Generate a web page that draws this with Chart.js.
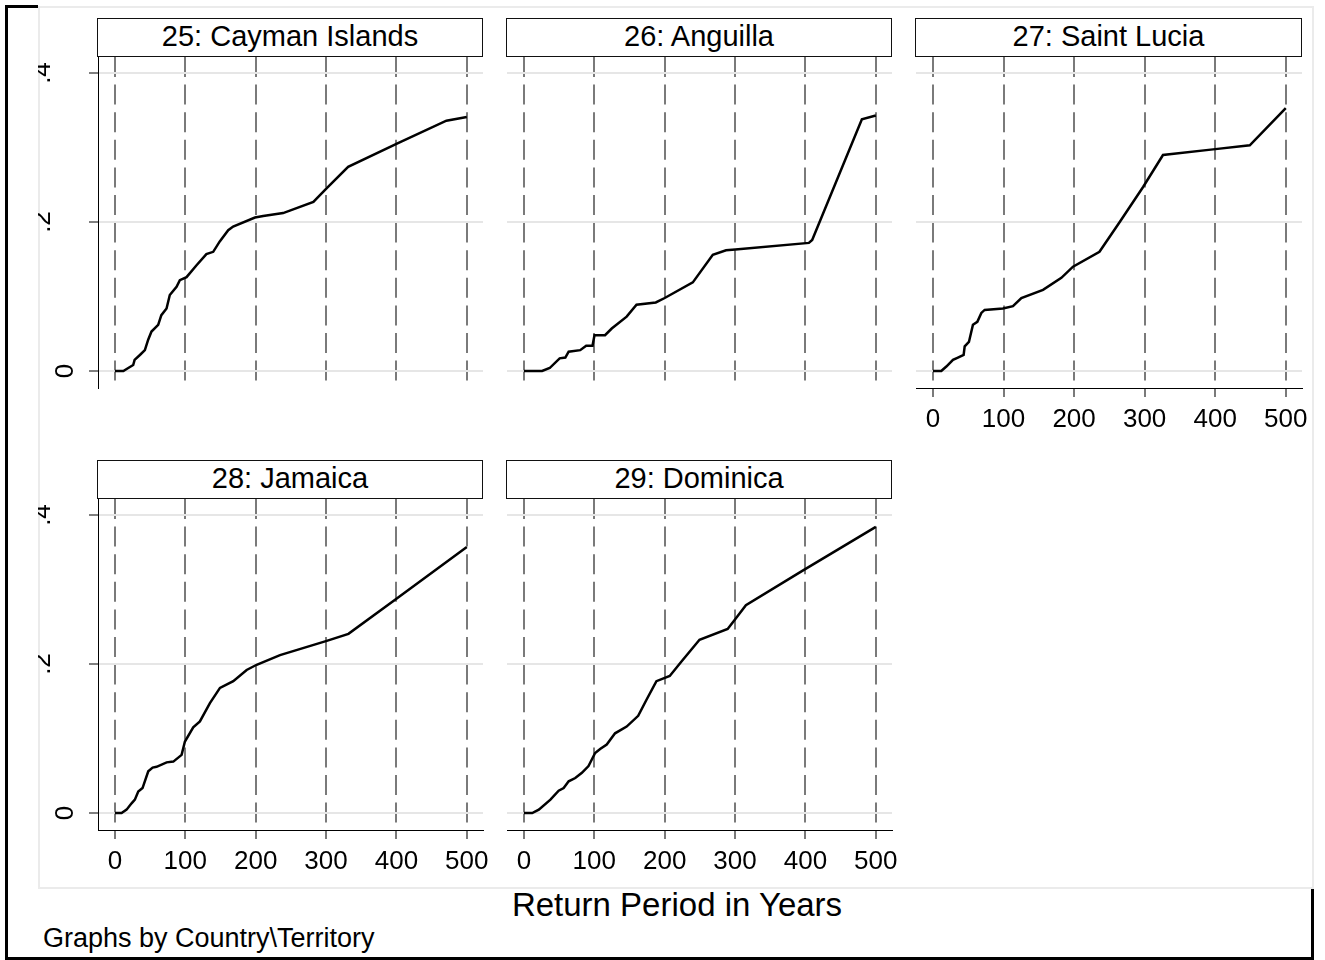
<!DOCTYPE html>
<html>
<head>
<meta charset="utf-8">
<script src="https://cdn.jsdelivr.net/npm/chart.js@4.4.0/dist/chart.umd.min.js"></script>
<style>
  body { margin: 0; background: #fff; }
  #page { position: relative; width: 1325px; height: 960px; overflow: hidden; background: #fff;
          font-family: "Liberation Sans", Arial, sans-serif; color: #000; }
  #page canvas { position: absolute; }
  .rule { position: absolute; background: #000; }
  #plotregion { position: absolute; left: 38px; top: 6px; width: 1276px; height: 883px;
                box-sizing: border-box; border: 2px solid #ebebeb; }
  .strip { position: absolute; box-sizing: border-box; height: 39px; border: 1.5px solid #111;
           background: #fff; text-align: center; font-size: 29px; line-height: 35px; white-space: nowrap; z-index: 2; }
  #xtitle { position: absolute; left: 477px; width: 400px; top: 888px; text-align: center;
            font-size: 33px; line-height: 33px; white-space: nowrap; }
  #note { position: absolute; left: 43px; top: 925px; font-size: 27px; line-height: 27px; white-space: nowrap; }
</style>
</head>
<body>
<div id="page">
  <div id="plotregion"></div>
  <div class="rule" style="left:5px;top:5px;width:3px;height:955px"></div>
  <div class="rule" style="left:5px;top:5px;width:33px;height:3px"></div>
  <div class="rule" style="left:5px;top:957px;width:1309px;height:3px"></div>
  <div class="rule" style="left:1311px;top:889px;width:3px;height:71px"></div>
  <div id="xtitle">Return Period in Years</div>
  <div id="note">Graphs by Country\Territory</div>
</div>
<script>
// panel titles
const titles = ['25: Cayman Islands', '26: Anguilla', '27: Saint Lucia', '28: Jamaica', '29: Dominica'];

// axis ticks
const xTicks = [0, 100, 200, 300, 400, 500];
const yTicks = [0, 0.2, 0.4];
const yTickLabels = ['0', '.2', '.4'];

// return period (years) and loss
const caymanYears = [0, 12, 19, 26, 28, 35.5, 42.6, 47.3, 52, 61.5, 66, 73.4, 78, 87.6, 92.3, 101.8, 116, 130, 139.7, 149, 161, 168, 199, 210.7, 239, 282, 300.7, 331.4, 400, 471, 500];
const caymanLoss  = [0, 0, 0.004, 0.008, 0.015, 0.0215, 0.028, 0.042, 0.053, 0.062, 0.075, 0.084, 0.102, 0.113, 0.122, 0.126, 0.142, 0.157, 0.160, 0.174, 0.189, 0.194, 0.206, 0.208, 0.212, 0.227, 0.245, 0.274, 0.305, 0.336, 0.341];

const anguillaYears = [0, 25.9, 36.7, 50.8, 58.9, 63.6, 80, 88.5, 97.5, 100.3, 115.3, 124.8, 146, 160, 187.4, 200.1, 240, 268.4, 287.2, 300.4, 404.9, 409.6, 480.2, 500];
const anguillaLoss  = [0, 0, 0.004, 0.017, 0.018, 0.026, 0.028, 0.034, 0.034, 0.048, 0.048, 0.057, 0.073, 0.089, 0.092, 0.098, 0.119, 0.156, 0.162, 0.163, 0.172, 0.176, 0.338, 0.343];

const luciaYears = [0, 11.8, 19, 28.4, 35.4, 43.5, 45, 51, 56.7, 62.9, 68.6, 73.3, 99.2, 113.4, 125.3, 156, 182, 198.5, 236, 264.7, 297.8, 326, 397, 449, 500];
const luciaLoss  = [0, 0, 0.006, 0.015, 0.018, 0.0215, 0.033, 0.039, 0.062, 0.066, 0.078, 0.082, 0.084, 0.087, 0.098, 0.109, 0.125, 0.140, 0.160, 0.200, 0.247, 0.290, 0.2975, 0.303, 0.353];

const jamaicaYears = [0, 9.5, 16.6, 23.7, 28.4, 33.2, 39.3, 47.4, 53.6, 59.2, 73.5, 83, 94.8, 99.5, 111.3, 120.8, 135, 149.3, 168.2, 187.2, 201.4, 234.6, 301, 331.8, 400.5, 500];
const jamaicaLoss  = [0, 0, 0.0045, 0.013, 0.018, 0.029, 0.0335, 0.056, 0.061, 0.062, 0.068, 0.069, 0.078, 0.096, 0.115, 0.123, 0.1475, 0.168, 0.177, 0.192, 0.199, 0.212, 0.231, 0.2405, 0.288, 0.357];

const dominicaYears = [0, 11.8, 21.2, 37.7, 49.4, 56.5, 63.6, 73, 82.4, 91.8, 101.2, 108.3, 117.7, 129.5, 146, 162.4, 174.2, 188.3, 207.2, 223.6, 249.5, 289.5, 301.3, 315.4, 395.5, 500];
const dominicaLoss  = [0, 0, 0.0045, 0.018, 0.030, 0.0335, 0.0425, 0.047, 0.054, 0.063, 0.0805, 0.086, 0.092, 0.107, 0.116, 0.1305, 0.152, 0.177, 0.184, 0.203, 0.2325, 0.247, 0.2615, 0.279, 0.325, 0.384];

const FONT = '"Liberation Sans", Arial, sans-serif';
const PAD = 70, AREA_H = 331, Y_W = 60, X_H = 50;
const page = document.getElementById('page');

// left/top = pixel position of the plot area; strip sits right above it
const panels = [
  { title: titles[0], xs: caymanYears,   ys: caymanLoss,   left: 98,  top: 57,  w: 385, showX: false, showY: true },
  { title: titles[1], xs: anguillaYears, ys: anguillaLoss, left: 507, top: 57,  w: 385, showX: false, showY: false },
  { title: titles[2], xs: luciaYears,    ys: luciaLoss,    left: 916, top: 57,  w: 386, showX: true,  showY: false },
  { title: titles[3], xs: jamaicaYears,  ys: jamaicaLoss,  left: 98,  top: 499, w: 385, showX: true,  showY: true },
  { title: titles[4], xs: dominicaYears, ys: dominicaLoss, left: 507, top: 499, w: 385, showX: true,  showY: false }
];

function drawPanel(p) {
  const yW = p.showY ? Y_W : 0;
  const xH = p.showX ? X_H : 0;

  const strip = document.createElement('div');
  strip.className = 'strip';
  strip.textContent = p.title;
  strip.style.left = (p.left - 1) + 'px';
  strip.style.top = (p.top - 39) + 'px';
  strip.style.width = (p.w + 1) + 'px';
  page.appendChild(strip);

  const cv = document.createElement('canvas');
  cv.width = PAD + yW + p.w + PAD;
  cv.height = PAD + AREA_H + xH + PAD;
  cv.style.left = (p.left - PAD - yW) + 'px';
  cv.style.top = (p.top - PAD) + 'px';
  page.appendChild(cv);

  new Chart(cv, {
    type: 'line',
    data: {
      datasets: [{
        data: p.xs.map((x, i) => ({ x: x, y: p.ys[i] })),
        borderColor: '#000',
        borderWidth: 2.5,
        pointRadius: 0,
        tension: 0,
        fill: false
      }]
    },
    options: {
      responsive: false,
      animation: false,
      events: [],
      layout: { padding: PAD },
      plugins: { legend: { display: false }, tooltip: { enabled: false } },
      scales: {
        x: {
          type: 'linear', min: -24, max: 523,
          afterBuildTicks: s => { s.ticks = xTicks.map(v => ({ value: v })); },
          afterFit: s => { s.height = xH; },
          grid: { color: '#7a7a7a', lineWidth: 2, drawTicks: p.showX, tickLength: 9, tickWidth: 2 },
          border: { display: p.showX, color: '#000', width: 1, dash: [20, 7.6] },
          ticks: { display: p.showX, color: '#000', padding: 7, maxRotation: 0,
                   font: { family: FONT, size: 26 } }
        },
        y: {
          min: -0.0228, max: 0.4215,
          afterBuildTicks: s => { s.ticks = yTicks.map(v => ({ value: v })); },
          afterFit: s => { s.width = yW; },
          grid: { color: '#e6e6e6', lineWidth: 2, drawTicks: p.showY, tickLength: 9, tickColor: '#000', tickWidth: 1 },
          border: { display: p.showY, color: '#000', width: 1 },
          ticks: {
            display: p.showY, color: '#000', padding: 12,
            minRotation: 90, maxRotation: 90, crossAlign: 'center',
            font: { family: FONT, size: 26, lineHeight: 1.77 },
            // the two-character labels sit further out in the original; an empty 2nd line shifts them
            callback: v => {
              const lab = yTickLabels[yTicks.indexOf(v)];
              return lab.length > 1 ? [lab, ''] : lab;
            }
          }
        }
      }
    }
  });
}

panels.forEach(drawPanel);
</script>
</body>
</html>
